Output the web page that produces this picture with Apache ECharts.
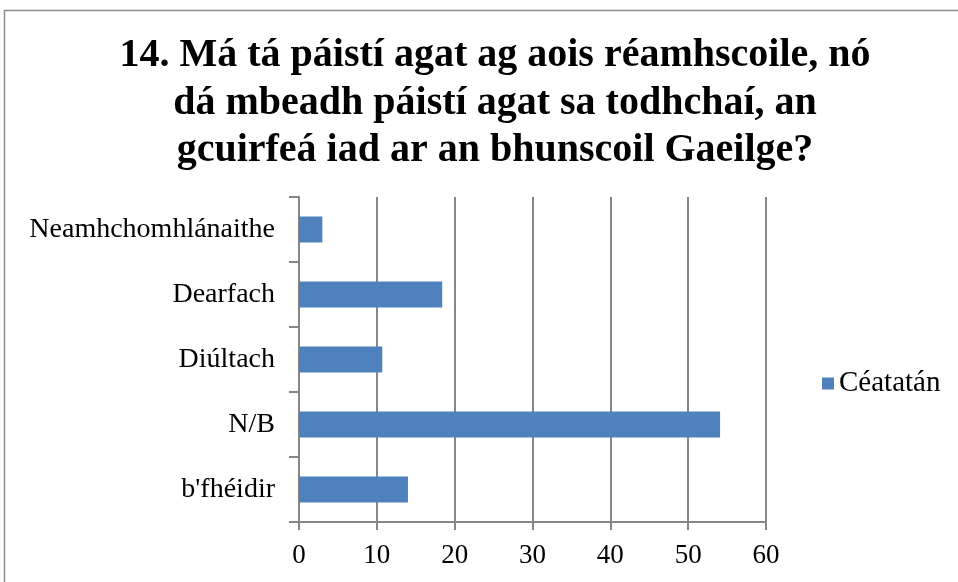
<!DOCTYPE html>
<html><head><meta charset="utf-8">
<script src="https://cdn.jsdelivr.net/npm/echarts@6/dist/echarts.min.js"></script>
<style>html,body{margin:0;padding:0;background:#fff}#c{width:958px;height:582px}</style>
</head><body><div id="c"></div>
<script>
const categories = ["b'fhéidir", "N/B", "Diúltach", "Dearfach", "Neamhchomhlánaithe"];
const values = [14, 54.1, 10.7, 18.4, 3];
const seriesName = "Céatatán";
const titleText = "14. Má tá páistí agat ag aois réamhscoile, nó\ndá mbeadh páistí agat sa todhchaí, an\ngcuirfeá iad ar an bhunscoil Gaeilge?";

const chart = echarts.init(document.getElementById('c'));
const font = '"Liberation Serif", "DejaVu Serif", serif';
chart.setOption({
  animation: false,
  backgroundColor: '#fff',
  graphic: [{type:'rect', shape:{x:4.5,y:10.5,width:1000,height:700}, style:{fill:'none', stroke:'#8c8c8c', lineWidth:1.5}}],
  title: {
    text: titleText, left: 490, top: 27, textAlign: 'center',
    textStyle: {fontFamily: font, fontWeight: 'bold', fontSize: 40, lineHeight: 47.5, color: '#000'}
  },
  legend: {
    data: [seriesName], left: 817, top: 364, itemWidth: 12, itemHeight: 12, itemGap: 5,
    icon: 'rect',
    textStyle: {fontFamily: font, fontSize: 29, color: '#000'}
  },
  grid: {left: 299, right: 192, top: 197, bottom: 60, containLabel: false},
  xAxis: {
    type: 'value', min: 0, max: 60, interval: 10,
    axisLine: {show: true, lineStyle: {color: '#868686', width: 2}},
    axisTick: {show: true, length: 8, lineStyle: {color: '#868686', width: 2}},
    splitLine: {show: true, lineStyle: {color: '#868686', width: 2}},
    axisLabel: {fontFamily: font, fontSize: 27, color: '#000', margin: 20}
  },
  yAxis: {
    type: 'category', data: categories,
    axisLine: {show: true, lineStyle: {color: '#868686', width: 2}},
    axisTick: {show: true, length: 10, lineStyle: {color: '#868686', width: 2}},
    axisLabel: {fontFamily: font, fontSize: 28, color: '#000', margin: 24}
  },
  series: [{
    name: seriesName, type: 'bar', data: values, barWidth: 26,
    itemStyle: {color: '#4F81BD'}
  }]
});
</script></body></html>
